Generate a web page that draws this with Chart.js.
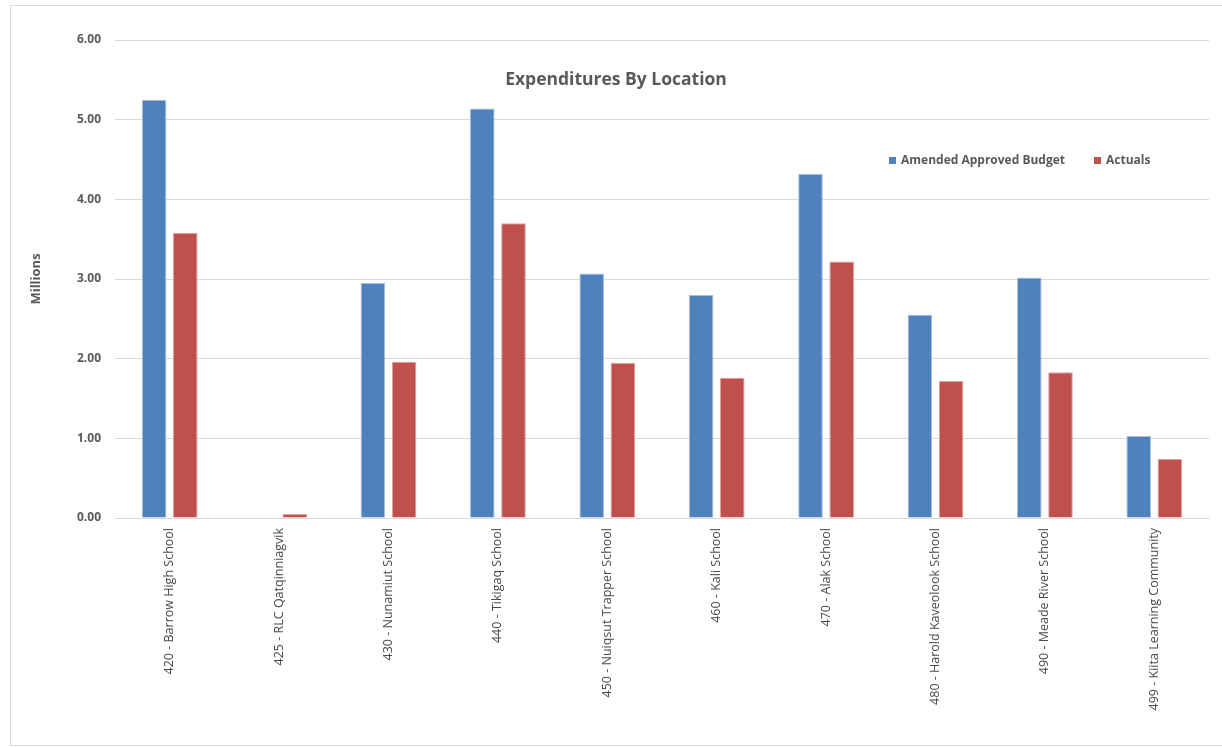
<!DOCTYPE html>
<html>
<head>
<meta charset="utf-8">
<script src="https://cdn.jsdelivr.net/npm/chart.js@4/dist/chart.umd.min.js"></script>
<style>
  html, body { margin: 0; padding: 0; background: #fff; overflow: hidden; }
  #frame { position: absolute; left: 10px; top: 5px; width: 1240px; height: 739px; border: 1px solid #d9d9d9; }
  #wrap { position: absolute; left: 0; top: 0; width: 1222px; height: 747px; }
</style>
</head>
<body>
<div id="frame"></div>
<div id="wrap"><canvas id="chart" width="1222" height="747"></canvas></div>
<script>
const locations = [
    '420 - Barrow High School', '425 - RLC Qatqinniagvik', '430 - Nunamiut School', '440 - Tikigaq School',
    '450 - Nuiqsut Trapper School', '460 - Kali School', '470 - Alak School', '480 - Harold Kaveolook School',
    '490 - Meade River School', '499 - Kiita Learning Community'
];
const budget = [5.25, 0, 2.95, 5.14, 3.07, 2.80, 4.32, 2.55, 3.02, 1.03];
const actuals = [3.58, 0.05, 1.96, 3.70, 1.95, 1.76, 3.22, 1.72, 1.83, 0.74];
const seriesNames = ['Amended Approved Budget', 'Actuals'];
const colors = ['#4f81bd', '#c0504d'];
const titleText = 'Expenditures By Location';

const FONT = "'Open Sans', 'Liberation Sans', sans-serif";
const GREY = '#595959';

// title + legend drawn inside the plot area, like the Excel original
const overlay = {
    id: 'overlay',
    afterDraw(chart) {
        const ctx = chart.ctx;
        ctx.save();
        ctx.fillStyle = GREY;
        ctx.font = 'bold 17.5px ' + FONT;
        ctx.textAlign = 'center';
        ctx.textBaseline = 'middle';
        ctx.fillText(titleText, 616, 80);

        ctx.font = 'bold 12px ' + FONT;
        ctx.textAlign = 'left';
        const items = [{ x: 889 }, { x: 1094 }];
        items.forEach((it, i) => {
            ctx.fillStyle = colors[i];
            ctx.fillRect(it.x, 157, 7, 7);
            ctx.fillStyle = GREY;
            ctx.fillText(seriesNames[i], it.x + 12, 161);
        });
        ctx.restore();
    }
};

new Chart(document.getElementById('chart'), {
    type: 'bar',
    data: {
        labels: locations,
        datasets: [
            { label: seriesNames[0], data: budget, backgroundColor: colors[0], borderColor: '#a7c0de', borderWidth: 1 },
            { label: seriesNames[1], data: actuals, backgroundColor: colors[1], borderColor: '#dca5a4', borderWidth: 1 },
        ]
    },
    options: {
        responsive: false,
        animation: false,
        layout: { padding: { top: 40, right: 13, bottom: 0, left: 0 } },
        datasets: { bar: { categoryPercentage: 0.57, barPercentage: 0.79 } },
        plugins: { legend: { display: false }, title: { display: false }, tooltip: { enabled: false } },
        scales: {
            x: {
                grid: { display: false, drawTicks: false },
                border: { color: '#d9d9d9', width: 1 },
                ticks: { minRotation: 90, maxRotation: 90, autoSkip: false, color: '#4a4a4a', padding: 10, font: { family: FONT, size: 12.5 } },
                afterFit(scale) { scale.height = 229; }
            },
            y: {
                min: 0, max: 6,
                grid: { color: '#d9d9d9', drawTicks: false },
                border: { display: false },
                ticks: { stepSize: 1, color: GREY, padding: 14, font: { family: FONT, size: 12, weight: 'bold' }, callback: v => v.toFixed(2) },
                title: { display: true, text: 'Millions', color: GREY, padding: { top: 28, bottom: 0 }, font: { family: FONT, size: 13, weight: 'bold' } },
                afterFit(scale) { scale.width = 115; }
            }
        }
    },
    plugins: [overlay]
});
</script>
</body>
</html>
